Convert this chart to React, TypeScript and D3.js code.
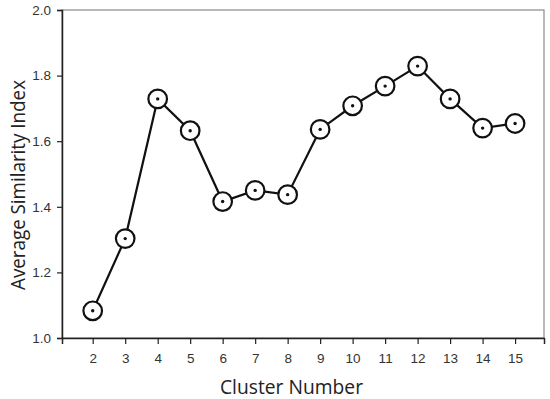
import React, { useEffect, useRef } from 'react';
import * as d3 from 'd3';

const clusters = [2, 3, 4, 5, 6, 7, 8, 9, 10, 11, 12, 13, 14, 15];
const similarity = [1.083, 1.303, 1.729, 1.632, 1.416, 1.45, 1.437, 1.636, 1.708, 1.768, 1.829, 1.729, 1.64, 1.654];
const yTicks = [1.0, 1.2, 1.4, 1.6, 1.8, 2.0];

export default function App() {
  const svgRef = useRef<SVGSVGElement>(null);

  useEffect(() => {
    const svg = d3.select(svgRef.current); svg.selectAll('*').remove();
    const width = 550, height = 399;
    const m = { top: 10, right: 6, bottom: 61, left: 62 };
    const x = d3.scaleLinear().domain([1.055, 15.89]).range([m.left, width - m.right]);
    const y = d3.scaleLinear().domain([1, 2]).range([height - m.bottom, m.top]);

    // grey frame top/right
    svg.append('rect').attr('x', m.left).attr('y', m.top)
      .attr('width', width - m.right - m.left).attr('height', height - m.bottom - m.top)
      .attr('fill', 'none').attr('stroke', '#8a8a8a').attr('stroke-width', 1.2);

    const yAxis = svg.append('g').attr('transform', `translate(${m.left},0)`)
      .call(d3.axisLeft(y).tickValues(yTicks).tickFormat(d3.format('.1f')).tickSize(5).tickPadding(6));
    const xAxis = svg.append('g').attr('transform', `translate(0,${height - m.bottom})`)
      .call(d3.axisBottom(x).tickValues(clusters).tickFormat(d3.format('d')).tickSize(6).tickPadding(9));
    [yAxis, xAxis].forEach(g => {
      g.select('.domain').attr('stroke', '#222').attr('stroke-width', 1.5);
      g.selectAll('.tick line').attr('stroke', '#222').attr('stroke-width', 1.2);
      g.selectAll('.tick text').attr('fill', '#333').attr('font-size', 13.5)
        .attr('font-family', 'Liberation Sans, Arial, sans-serif');
    });

    const line = d3.line<number>().x((_, i) => x(clusters[i])).y(d => y(d));
    svg.append('path').datum(similarity).attr('d', line)
      .attr('fill', 'none').attr('stroke', '#111').attr('stroke-width', 2.2);

    const pts = svg.selectAll('g.pt').data(similarity).enter().append('g').attr('class', 'pt')
      .attr('transform', (d, i) => `translate(${x(clusters[i])},${y(d)})`);
    pts.append('circle').attr('r', 9.3).attr('fill', '#fff').attr('stroke', '#111').attr('stroke-width', 2.2);
    pts.append('circle').attr('r', 1.7).attr('fill', '#111');

    svg.append('text').attr('x', 291.5).attr('y', 394).attr('text-anchor', 'middle')
      .attr('font-family', 'Open Sans, Noto Sans, sans-serif').attr('font-size', 19.5).attr('fill', '#222')
      .attr('textLength', 143).attr('lengthAdjust', 'spacingAndGlyphs')
      .text('Cluster Number');
    svg.append('text').attr('transform', 'translate(25,185) rotate(-90)').attr('text-anchor', 'middle')
      .attr('font-family', 'Open Sans, Noto Sans, sans-serif').attr('font-size', 20).attr('fill', '#222')
      .attr('textLength', 210).attr('lengthAdjust', 'spacingAndGlyphs')
      .text('Average Similarity Index');
  }, []);

  return (
    <svg ref={svgRef} width={550} height={399} viewBox="0 0 550 399"
      style={{ position: 'absolute', left: 0, top: 0, background: '#fff' }} />
  );
}
